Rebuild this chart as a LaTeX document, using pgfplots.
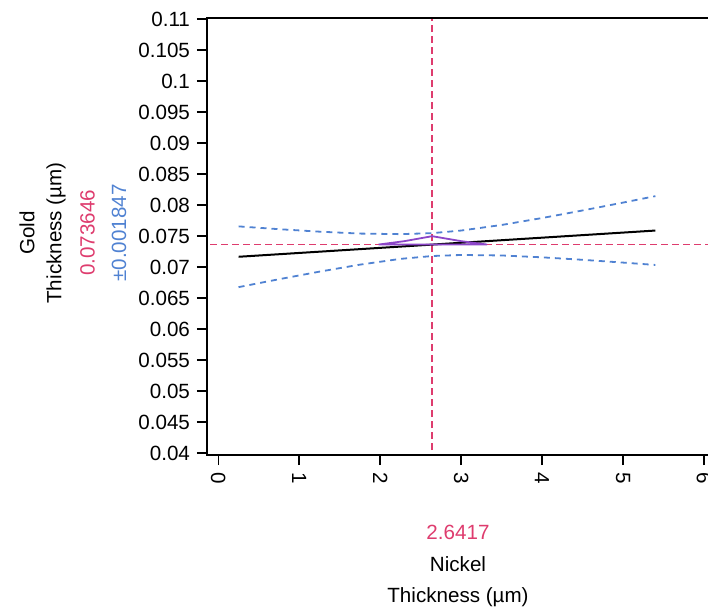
\documentclass[border=0pt]{standalone}
\usepackage{pgfplots}
\pgfplotsset{compat=1.18}
\usepackage{fontspec}
\setmainfont{Liberation Sans}
\definecolor{refred}{RGB}{222,60,110}
\definecolor{refblue}{RGB}{80,130,210}
\definecolor{refpurple}{RGB}{140,70,200}
\begin{document}
\begin{tikzpicture}[font=\fontsize{10.3}{12}\selectfont]
\useasboundingbox (-103.5pt,-78.5pt) rectangle (250.5pt,227.5pt);
\begin{axis}[
  at={(0pt,0pt)}, anchor=south west,
  scale only axis, width=252pt, height=218.5pt,
  xmin=-0.14, xmax=6.087, ymin=0.0397, ymax=0.1102,
  xtick={0,1,2,3,4,5,6},
  xticklabels={0,1,2,3,4,5,6},
  ytick={0.04,0.045,0.05,0.055,0.06,0.065,0.07,0.075,0.08,0.085,0.09,0.095,0.1,0.105,0.11},
  yticklabels={0.04,0.045,0.05,0.055,0.06,0.065,0.07,0.075,0.08,0.085,0.09,0.095,0.1,0.105,0.11},
  tick align=outside, xtick pos=bottom, ytick pos=left, major tick length=5pt,
  tick style={black, line width=0.8pt},
  axis line style={line width=1pt},
  /pgf/number format/assume math mode=true,
  ticklabel style={font=\fontsize{10.3}{12}\selectfont},
  xticklabel style={rotate=-90, anchor=west},
  clip=false,
]
% reference lines
\addplot[refred, line width=0.7pt, dash pattern=on 3.5pt off 2pt] coordinates {(-0.10,0.073646) (6.087,0.073646)};
\addplot[refred, line width=0.7pt, dash pattern=on 3.5pt off 2pt] coordinates {(2.6417,0.0405) (2.6417,0.1100)};
% confidence bands
\addplot[refblue, line width=0.9pt, dash pattern=on 3pt off 2.5pt] coordinates {
 (0.25,0.07658) (0.75,0.07613) (1.25,0.07573) (1.75,0.07542) (2.25,0.07533) (2.6417,0.07549)
 (3.0,0.07591) (3.5,0.07681) (4.0,0.07793) (4.5,0.07915) (5.0,0.08042) (5.4,0.08146)};
\addplot[refblue, line width=0.9pt, dash pattern=on 3pt off 2.5pt] coordinates {
 (0.25,0.06678) (0.75,0.06806) (1.25,0.06928) (1.75,0.07041) (2.25,0.07134) (2.6417,0.07180)
 (3.0,0.07197) (3.5,0.07189) (4.0,0.07159) (4.5,0.07119) (5.0,0.07074) (5.4,0.07036)};
% prediction line
\addplot[black, line width=1pt] coordinates {(0.25,0.07168) (5.4,0.07591)};
% purple hump
\addplot[refpurple, line width=0.9pt] coordinates {
 (1.98,0.07365) (2.3,0.07420) (2.6417,0.07500) (3.0,0.07420) (3.32,0.07365) (1.98,0.07365)};
\end{axis}
\node[rotate=90] at (-90pt,111pt) {Gold};
\node[rotate=90] at (-75.5pt,111pt) {Thickness (µm)};
\node[rotate=90, text=refred] at (-59.75pt,111pt) {0.073646};
\node[rotate=90, text=refblue] at (-44pt,111pt) {±0.001847};
\node[text=refred] at (125.5pt,-38.75pt) {2.6417};
\node at (125.5pt,-54.75pt) {Nickel};
\node at (125.5pt,-71pt) {Thickness (µm)};
\end{tikzpicture}
\end{document}
